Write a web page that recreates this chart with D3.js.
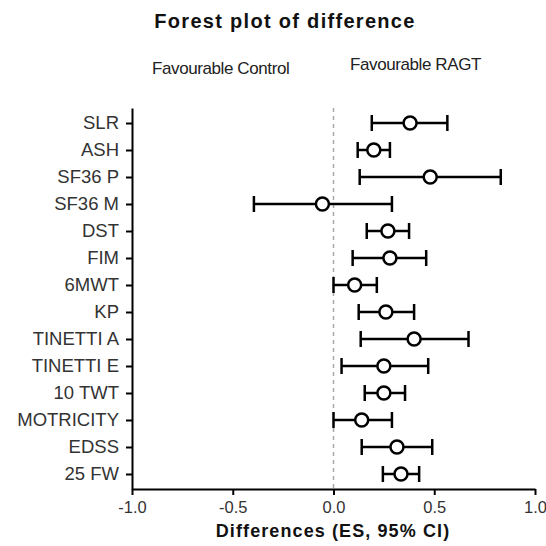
<!DOCTYPE html>
<html>
<head>
<meta charset="utf-8">
<script src="https://cdn.jsdelivr.net/npm/d3@7"></script>
<style>
  html, body { margin: 0; padding: 0; background: #fff; }
  svg { display: block; }
</style>
</head>
<body>
<svg id="chart" width="546" height="546"></svg>
<script>
const categories = ["SLR","ASH","SF36 P","SF36 M","DST","FIM","6MWT","KP","TINETTI A","TINETTI E","10 TWT","MOTRICITY","EDSS","25 FW"];
const means = [0.38, 0.20, 0.48, -0.055, 0.27, 0.28, 0.105, 0.26, 0.40, 0.25, 0.25, 0.14, 0.315, 0.335];
const lower = [0.19, 0.12, 0.13, -0.395, 0.165, 0.095, 0.0, 0.125, 0.135, 0.04, 0.155, 0.0, 0.14, 0.245];
const upper = [0.565, 0.28, 0.83, 0.29, 0.375, 0.46, 0.215, 0.40, 0.67, 0.47, 0.355, 0.29, 0.49, 0.425];
const xTicks = [-1.0, -0.5, 0.0, 0.5, 1.0];

const svg = d3.select("#chart");
const font = "Liberation Sans, Arial, sans-serif";

const x = d3.scaleLinear().domain([-1, 1]).range([132, 535]);
const y = d3.scalePoint().domain(categories).range([108, 489]).padding(0.556);

// zero reference line
svg.append("line")
  .attr("x1", x(0)).attr("x2", x(0))
  .attr("y1", 108).attr("y2", 489)
  .attr("stroke", "#a8a8a8").attr("stroke-width", 1.5)
  .attr("stroke-dasharray", "4,4");

// x axis
const xAxis = svg.append("g")
  .attr("transform", "translate(0,489)")
  .call(d3.axisBottom(x).tickValues(xTicks).tickFormat(d => d3.format(".1f")(d).replace("\u2212", "-")).tickSize(6).tickSizeOuter(0));
xAxis.select(".domain").attr("stroke", "#000").attr("stroke-width", 2);
xAxis.selectAll(".tick line").attr("stroke", "#000").attr("stroke-width", 2);
xAxis.selectAll(".tick text")
  .attr("font-family", font).attr("font-size", 16.5).attr("fill", "#333")
  .attr("dy", "0.71em").attr("y", 12);

// y axis
const yAxis = svg.append("g")
  .attr("transform", "translate(132,0)")
  .call(d3.axisLeft(y).tickSize(6).tickSizeOuter(0));
yAxis.select(".domain").attr("stroke", "#000").attr("stroke-width", 2);
yAxis.selectAll(".tick line").attr("stroke", "#000").attr("stroke-width", 2);
yAxis.selectAll(".tick text")
  .attr("font-family", font).attr("font-size", 18.5).attr("fill", "#333")
  .attr("x", -13);

// error bars
const rows = categories.map((c, i) => ({ c, m: means[i], lo: lower[i], hi: upper[i] }));
const g = svg.append("g");
const capH = 8;
g.selectAll(".ci").data(rows).enter().append("line")
  .attr("x1", d => x(d.lo)).attr("x2", d => x(d.hi))
  .attr("y1", d => y(d.c)).attr("y2", d => y(d.c))
  .attr("stroke", "#000").attr("stroke-width", 2.5);
g.selectAll(".capL").data(rows).enter().append("line")
  .attr("x1", d => x(d.lo)).attr("x2", d => x(d.lo))
  .attr("y1", d => y(d.c) - capH).attr("y2", d => y(d.c) + capH)
  .attr("stroke", "#000").attr("stroke-width", 2.5);
g.selectAll(".capR").data(rows).enter().append("line")
  .attr("x1", d => x(d.hi)).attr("x2", d => x(d.hi))
  .attr("y1", d => y(d.c) - capH).attr("y2", d => y(d.c) + capH)
  .attr("stroke", "#000").attr("stroke-width", 2.5);
g.selectAll(".pt").data(rows).enter().append("circle")
  .attr("cx", d => x(d.m)).attr("cy", d => y(d.c)).attr("r", 6.5)
  .attr("fill", "#fff").attr("stroke", "#000").attr("stroke-width", 2.5);

// titles
svg.append("text").attr("x", 285).attr("y", 28).attr("text-anchor", "middle")
  .attr("font-family", font).attr("font-weight", "bold").attr("font-size", 20)
  .attr("letter-spacing", 1.3).attr("fill", "#111")
  .text("Forest plot of difference");
svg.append("text").attr("x", 152).attr("y", 74)
  .attr("font-family", font).attr("font-size", 17).attr("letter-spacing", -0.4).attr("fill", "#222")
  .text("Favourable Control");
svg.append("text").attr("x", 350).attr("y", 70)
  .attr("font-family", font).attr("font-size", 17).attr("letter-spacing", -0.4).attr("fill", "#222")
  .text("Favourable RAGT");
svg.append("text").attr("x", 333).attr("y", 537).attr("text-anchor", "middle")
  .attr("font-family", font).attr("font-weight", "bold").attr("font-size", 18).attr("letter-spacing", 1.1).attr("fill", "#111")
  .text("Differences (ES, 95% CI)");
</script>
</body>
</html>
